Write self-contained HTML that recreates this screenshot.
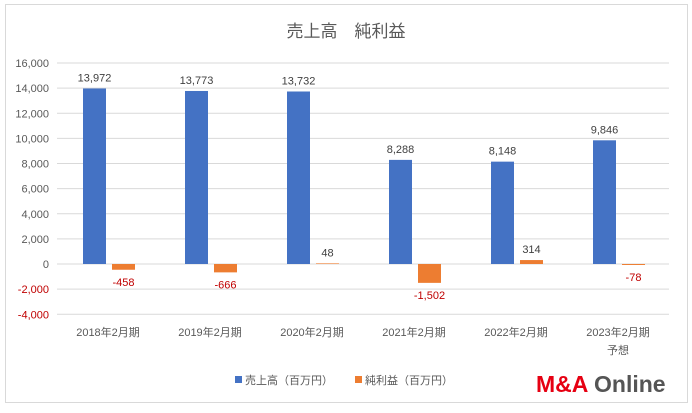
<!DOCTYPE html>
<html><head><meta charset="utf-8"><style>
body{margin:0;background:#fff;width:692px;height:408px;overflow:hidden;font-family:"Liberation Sans","Noto Sans CJK JP",sans-serif}
</style></head><body>
<svg id="c" width="692" height="408" xmlns="http://www.w3.org/2000/svg" style="font-family:'Liberation Sans','Noto Sans CJK JP',sans-serif">
<rect x="5.5" y="4.5" width="682" height="398" fill="#fff" stroke="#d9d9d9"/>
<text x="346" y="37" text-anchor="middle" font-size="17" fill="#595959">売上高　純利益</text>
<g id="g"></g>
<g>
<rect x="235" y="376" width="7" height="7" fill="#4472c4"/>
<text x="245" y="384" font-size="11" fill="#595959">売上高（百万円）</text>
<rect x="355" y="376" width="7" height="7" fill="#ed7d31"/>
<text x="365" y="384" font-size="11" fill="#595959">純利益（百万円）</text>
</g>
<text x="536" y="392" font-size="23" font-weight="bold" fill="#e60012">M&amp;A</text>
<text x="594" y="392" font-size="23" font-weight="bold" fill="#555">Online</text>
</svg>
<script>
const categories=["2018年2月期","2019年2月期","2020年2月期","2021年2月期","2022年2月期","2023年2月期|予想"];
const sales=[13972,13773,13732,8288,8148,9846];
const profit=[-458,-666,48,-1502,314,-78];
const ticks=[16000,14000,12000,10000,8000,6000,4000,2000,0,-2000,-4000];
const NS="http://www.w3.org/2000/svg",g=document.getElementById('g');
const left=57,right=669,cw=(right-left)/categories.length;
function y(v){return 264-v*(201/16000);}
function mk(t,a,txt){const e=document.createElementNS(NS,t);for(const k in a)e.setAttribute(k,a[k]);if(txt!==undefined)e.textContent=txt;g.appendChild(e);return e;}
const fmt=v=>v.toLocaleString('en-US');
ticks.forEach(t=>{
const l=mk('line',{x1:left,x2:right,y1:y(t),y2:y(t),stroke:'#d9d9d9'});


const tx=mk('text',{x:49,y:y(t)+4,'text-anchor':'end','font-size':11,fill:t<0?'#c00000':'#595959'},fmt(t));


});
categories.forEach((c,i)=>{
const x0=left+i*cw;
const b=mk('rect',{x:x0+26,width:23,y:Math.min(y(sales[i]),y(0)),height:Math.abs(y(sales[i])-y(0)),fill:'#4472c4'});


const o=mk('rect',{x:x0+55,width:23,y:Math.min(y(profit[i]),y(0)),height:Math.abs(y(profit[i])-y(0)),fill:'#ed7d31'});


const sl=mk('text',{x:x0+37.5,y:y(sales[i])-7,'text-anchor':'middle','font-size':11,fill:'#404040'},fmt(sales[i]));


const py=profit[i]>=0?y(profit[i])-7:y(profit[i])+16;
const pl=mk('text',{x:x0+66.5,y:py,'text-anchor':'middle','font-size':11,fill:profit[i]<0?'#c00000':'#404040'},fmt(profit[i]));


c.split('|').forEach((s,j)=>{
const cl=mk('text',{x:x0+cw/2,y:336+j*18,'text-anchor':'middle','font-size':11,fill:'#595959'},s);


});
});
</script>
</body></html>
